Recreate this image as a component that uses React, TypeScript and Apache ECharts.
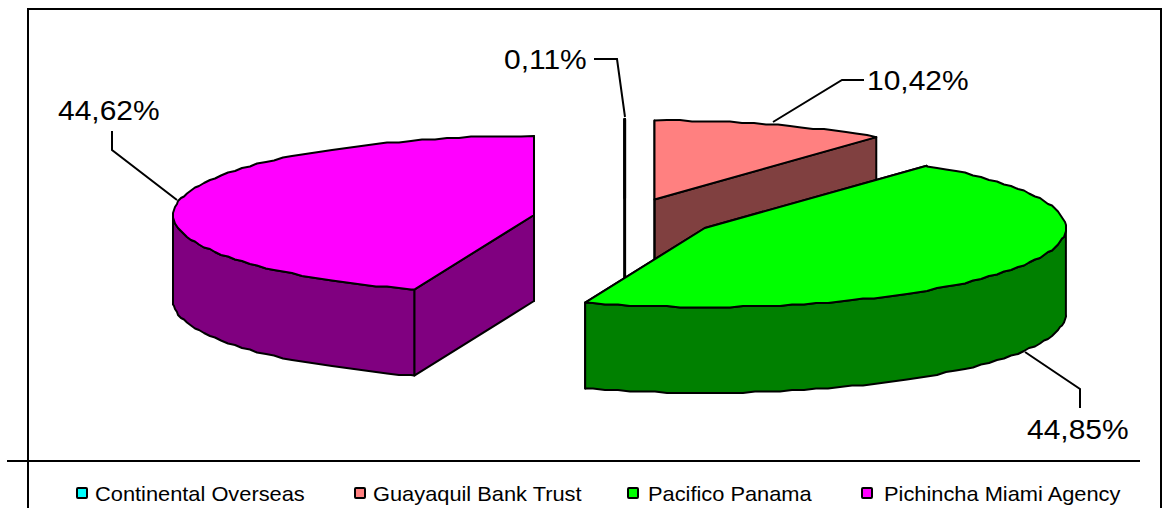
import React, { useEffect, useRef } from "react";
import * as echarts from "echarts";

const categories = ["Continental Overseas", "Guayaquil Bank Trust", "Pacifico Panama", "Pichincha Miami Agency"];
const shares = [0.11, 10.42, 44.85, 44.62];

const topColors = ["#00FFFF", "#FF8080", "#00FF00", "#FF00FF"];
const sideColors = ["#008080", "#804040", "#008000", "#800080"];

// Pie geometry in page pixels
const CX = 624.4, CY = 218.4, RX = 361, RY = 79, DEPTH = 86, EXPLODE = 91.7;
const FONT = "Liberation Sans, Arial, sans-serif";
const LABEL_SIZE = 27, LABEL_STRETCH = 1.11;
const LEGEND_SIZE = 20.5, LEGEND_STRETCH = 1.065;

// Label and leader-line layout per slice
const leaderLines = [
  [[594, 59], [617, 59], [625, 117]],
  [[773, 122], [842, 80], [864, 80]],
  [[1025, 352], [1080, 389], [1080, 408]],
  [[112, 131], [112, 150], [177, 200]],
];
const labelAnchors = [[504, 60], [867, 81], [1027, 430], [58, 111]];
const legendSwatchX = [76, 354, 627, 861];
const legendTextX = [95, 373, 648, 884];

const rad = (d: number) => (d * Math.PI) / 180;

// The rim is drawn on a coarse grid, which gives the slightly stepped outline of the original.
function rimPoint(cx: number, cy: number, a: number, snap: boolean) {
  let dx = RX * Math.sin(rad(a));
  if (Math.abs(dx) < 4) dx = 0;
  const y = cy - RY * Math.cos(rad(a));
  return snap ? [Math.round(cx + dx), Math.round(y / 1.5) * 1.5] : [cx + dx, y];
}

function arc(cx: number, cy: number, a0: number, a1: number) {
  const pts: number[][] = [];
  const step = 2;
  pts.push(rimPoint(cx, cy, a0, false));
  for (let a = Math.ceil(a0 / step) * step; a < a1; a += step) {
    if (a > a0) pts.push(rimPoint(cx, cy, a, true));
  }
  pts.push(rimPoint(cx, cy, a1, false));
  return pts;
}

const fmt = (v: number) => v.toFixed(2).replace(".", ",") + "%";

function renderSlice(index: number) {
  return (_params: any, api: any) => {
    const value = api.value(0);
    const total = shares.reduce((s, v) => s + v, 0);
    const before = shares.slice(0, index).reduce((s, v) => s + v, 0);
    const a0 = (before / total) * 360;
    const a1 = a0 + (value / total) * 360;
    const mid = (a0 + a1) / 2;
    const cx = CX + EXPLODE * Math.sin(rad(mid));
    const cy = CY - (EXPLODE * RY / RX) * Math.cos(rad(mid));
    const stroke = { stroke: "#000", lineWidth: a1 - a0 < 1 ? 2.7 : 2, lineJoin: "round" };
    const side = { fill: sideColors[index], ...stroke };
    const children: any[] = [];

    const radial = (a: number) => {
      const [x, y] = rimPoint(cx, cy, a, false);
      children.push({
        type: "polygon",
        shape: { points: [[cx, cy], [x, y], [x, y + DEPTH], [cx, cy + DEPTH]] },
        style: side,
      });
    };
    radial(a1);
    radial(a0);

    const w0 = Math.max(a0, 90);
    const w1 = Math.min(a1, 270);
    if (w1 > w0) {
      const t = arc(cx, cy, w0, w1);
      const b = arc(cx, cy + DEPTH, w0, w1).reverse();
      children.push({ type: "polygon", shape: { points: [...t, ...b] }, style: side });
    }

    children.push({
      type: "polygon",
      shape: { points: [[cx, cy], ...arc(cx, cy, a0, a1)] },
      style: { fill: topColors[index], ...stroke },
    });

    children.push({
      type: "polyline",
      shape: { points: leaderLines[index] },
      style: { fill: "none", stroke: "#000", lineWidth: 2 },
    });
    children.push({
      type: "text",
      x: labelAnchors[index][0],
      y: labelAnchors[index][1],
      scaleX: LABEL_STRETCH,
      style: {
        text: fmt(value),
        fontFamily: FONT,
        fontSize: LABEL_SIZE,
        fill: "#000",
        align: "left",
        verticalAlign: "middle",
      },
    });
    return { type: "group", children };
  };
}

export default function App() {
  const ref = useRef<HTMLDivElement>(null);
  useEffect(() => {
    const chart = echarts.init(ref.current!, undefined, { renderer: "svg" });
    const legendItems: any[] = [];
    categories.forEach((name, i) => {
      legendItems.push({
        type: "rect",
        shape: { x: legendSwatchX[i] + 1, y: 488, width: 10, height: 10, r: 1 },
        style: { fill: topColors[i], stroke: "#000", lineWidth: 2 },
      });
      legendItems.push({
        type: "text",
        x: legendTextX[i],
        y: 494,
        scaleX: LEGEND_STRETCH,
        style: {
          text: name,
          fontFamily: FONT,
          fontSize: LEGEND_SIZE,
          fill: "#000",
          align: "left",
          verticalAlign: "middle",
        },
      });
    });
    chart.setOption({
      animation: false,
      backgroundColor: "#fff",
      graphic: [
        {
          type: "polyline",
          shape: { points: [[28, 510], [28, 9], [1161, 9], [1161, 510]] },
          style: { fill: "none", stroke: "#000", lineWidth: 2 },
        },
        {
          type: "line",
          shape: { x1: 7, y1: 461, x2: 1140, y2: 461 },
          style: { stroke: "#000", lineWidth: 2 },
        },
        ...legendItems,
      ],
      series: categories.map((name, i) => ({
        type: "custom",
        name,
        coordinateSystem: "none",
        silent: true,
        data: [[shares[i]]],
        renderItem: renderSlice(i),
      })),
    });
    return () => chart.dispose();
  }, []);
  return <div ref={ref} style={{ position: "absolute", left: 0, top: 0, width: 1165, height: 508 }} />;
}
